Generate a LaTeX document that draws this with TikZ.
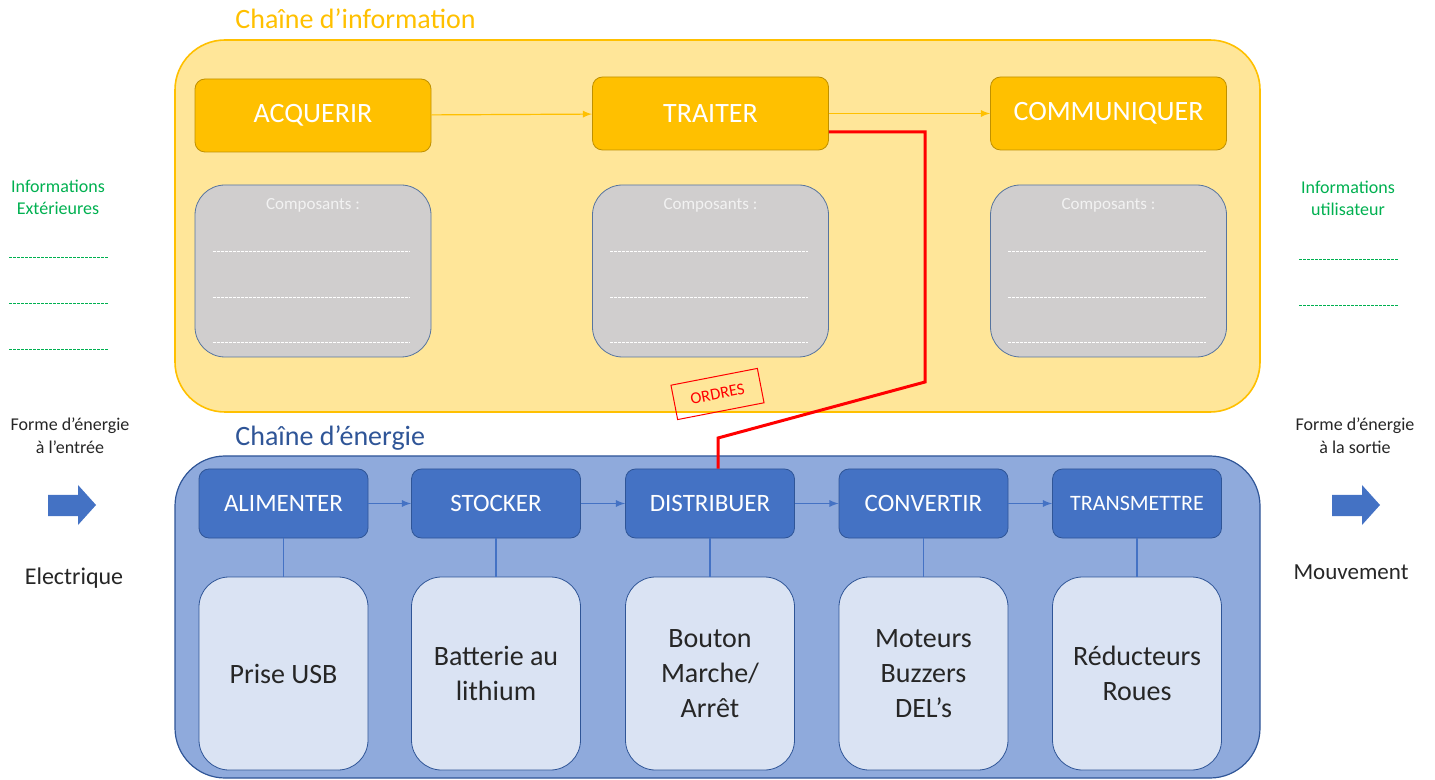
\documentclass[tikz,border=0pt]{standalone}
\usepackage{fontspec}
\setmainfont{Carlito}
\usetikzlibrary{calc,arrows,positioning}

\definecolor{infofond}{HTML}{FFE699}
\definecolor{infojaune}{HTML}{FFC000}
\definecolor{infobord}{HTML}{BF9000}
\definecolor{compgris}{HTML}{D0CECE}
\definecolor{compbord}{HTML}{56749F}
\definecolor{energiefond}{HTML}{8FAADC}
\definecolor{energiebleu}{HTML}{4472C4}
\definecolor{energiebord}{HTML}{2F5597}
\definecolor{energieclair}{HTML}{DAE3F3}
\definecolor{infovert}{HTML}{00B050}
\definecolor{textegris}{HTML}{262626}

\begin{document}
\begin{tikzpicture}
    % 坐标单位按像素, y 向下
    [x=0.5pt, y=-0.5pt,
    info_func/.style={draw=infobord, fill=infojaune, rounded corners=5pt, minimum width=118pt, minimum height=36.5pt, text=white, font=\fontsize{14}{17}\selectfont},
    comp_box/.style={draw=compbord, fill=compgris, rounded corners=15pt, minimum width=118pt, minimum height=86pt},
    comp_title/.style={text=white!95!black, font=\fontsize{8.5}{10}\selectfont},
    comp_line/.style={white, line width=0.4pt, dash pattern=on 1.5pt off 0.5pt},
    energy_func/.style={draw=energiebord, fill=energiebleu, rounded corners=5pt, minimum width=84.5pt, minimum height=34.5pt, text=white, font=\fontsize{12.5}{15}\selectfont},
    energy_comp/.style={draw=energiebord, fill=energieclair, rounded corners=15pt, minimum width=84.5pt, minimum height=96.5pt, align=center, text=textegris, font=\fontsize{14}{17.5}\selectfont},
    info_arrow/.style={-latex, infojaune, line width=0.6pt},
    energy_arrow/.style={-latex, energiebleu, line width=0.6pt},
    energy_link/.style={energiebleu, line width=0.6pt},
    side_info/.style={align=center, text=infovert, font=\fontsize{9}{11}\selectfont},
    side_text/.style={align=center, text=textegris, font=\fontsize{9}{11.5}\selectfont},
    green_dots/.style={infovert, line width=0.5pt, dash pattern=on 1.5pt off 0.5pt}]
    \useasboundingbox (0, 0) rectangle (1435, 780);
    % 信息链
    \draw[draw=infojaune, fill=infofond, line width=0.8pt, rounded corners=25pt] (175, 40) rectangle (1260, 412);
    \node[anchor=base west, inner sep=0pt, text=infojaune, font=\fontsize{14}{17}\selectfont] (titre_info) at (235, 29) {Chaîne d’information};
    \node[info_func] (acquerir) at (313, 115.5) {ACQUERIR};
    \node[info_func] (traiter) at (710.5, 113.5) {TRAITER};
    \node[info_func] (communiquer) at (1108.5, 113.5) {COMMUNIQUER};
    \draw[info_arrow] (acquerir) -- (traiter);
    \draw[info_arrow] (traiter) -- (communiquer);
    \node[comp_box] (compA) at (313, 271) {};
    \node[comp_box] (compT) at (710.5, 271) {};
    \node[comp_box] (compC) at (1108.5, 271) {};
    \foreach \cb in {compA, compT, compC} {
        \node[comp_title] (\cb_titre) at ($(\cb.north)+(0, 21)$) {Composants :};
        \foreach \dy in {67, 113, 158}
            \draw[comp_line] ($(\cb.north west)+(18, \dy)$) -- ($(\cb.north east)+(-21, \dy)$);
    }
    % 能量链
    \draw[draw=energiebord, fill=energiefond, line width=0.6pt, rounded corners=25pt] (175, 456) rectangle (1260, 778);
    \node[anchor=base west, inner sep=0pt, text=energiebord, font=\fontsize{14}{17}\selectfont] (titre_energie) at (235, 445) {Chaîne d’énergie};
    \node[energy_func] (alimenter) at (283.5, 503.5) {ALIMENTER};
    \node[energy_func] (stocker) at (496, 503.5) {STOCKER};
    \node[energy_func] (distribuer) at (710, 503.5) {DISTRIBUER};
    \node[energy_func] (convertir) at (923.5, 503.5) {CONVERTIR};
    \node[energy_func, font=\fontsize{11}{13}\selectfont] (transmettre) at (1137, 503.5) {TRANSMETTRE};
    \node[energy_comp] (prise) at (283.5, 673.5) {Prise USB};
    \node[energy_comp] (batterie) at (496, 673.5) {Batterie au\\lithium};
    \node[energy_comp] (bouton) at (710, 673.5) {Bouton\\Marche/\\Arrêt};
    \node[energy_comp] (moteurs) at (923.5, 673.5) {Moteurs\\Buzzers\\DEL’s};
    \node[energy_comp] (reducteurs) at (1137, 673.5) {Réducteurs\\Roues};
    \foreach \a/\b in {alimenter/stocker, stocker/distribuer, distribuer/convertir, convertir/transmettre}
        \draw[energy_arrow] (\a) -- (\b);
    \foreach \a/\b in {alimenter/prise, stocker/batterie, distribuer/bouton, convertir/moteurs, transmettre/reducteurs}
        \draw[energy_link] (\a) -- (\b);
    % 指令线
    \draw[red, line width=1.5pt] ($(traiter.east)!0.5!(traiter.south east)$) -| (925, 382) -- (718, 438) -- ($(distribuer.north)+(8, 0)$);
    \node[draw=red, text=red, line width=0.5pt, rotate=11, minimum width=44pt, minimum height=17.5pt, inner sep=1pt, font=\fontsize{8.3}{10}\selectfont] (ordres) at (717.5, 394) {ORDRES};
    % 左侧
    \node[side_info] (info_ext) at (58, 197) {Informations\\Extérieures};
    \foreach \y in {258, 304, 350}
        \draw[green_dots] (9, \y) -- (108, \y);
    \node[side_text] (forme_in) at (70, 436) {Forme d’énergie\\à l’entrée};
    \fill[energiebleu] (48, 495) -- (78, 495) -- (78, 485) -- (96, 505) -- (78, 525) -- (78, 516) -- (48, 516) -- cycle;
    \node[text=textegris, font=\fontsize{12}{14}\selectfont] (electrique) at (74, 578) {Electrique};
    % 右侧
    \node[side_info] (info_user) at (1348, 198) {Informations\\utilisateur};
    \foreach \y in {260, 306}
        \draw[green_dots] (1299, \y) -- (1398, \y);
    \node[side_text] (forme_out) at (1355, 436) {Forme d’énergie\\à la sortie};
    \fill[energiebleu] (1332, 495) -- (1362, 495) -- (1362, 485) -- (1380, 505) -- (1362, 525) -- (1362, 516) -- (1332, 516) -- cycle;
    \node[text=textegris, font=\fontsize{11.5}{14}\selectfont] (mouvement) at (1351, 572) {Mouvement};
\end{tikzpicture}
\end{document}
